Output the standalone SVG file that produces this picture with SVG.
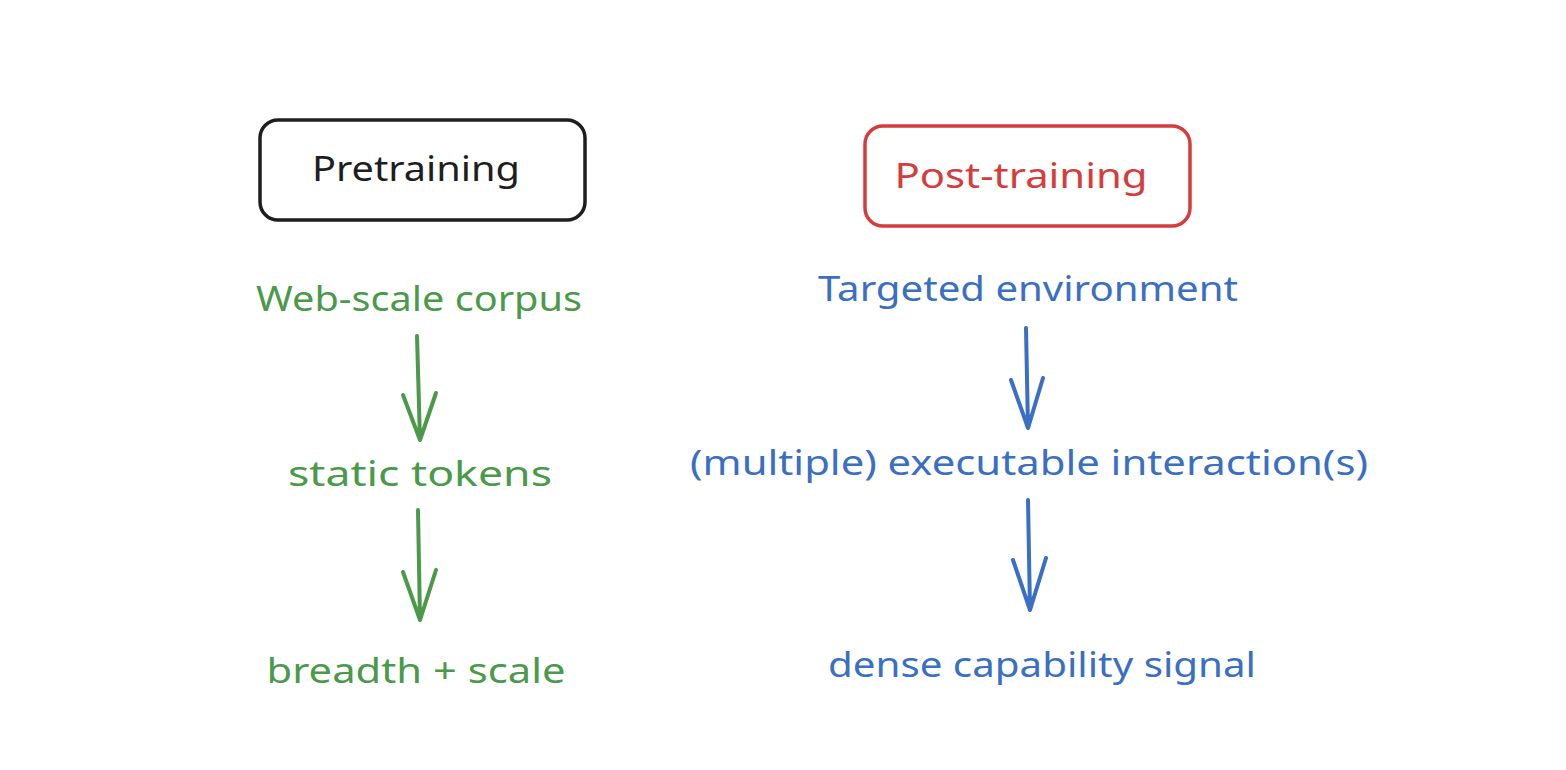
<svg xmlns="http://www.w3.org/2000/svg" width="1566" height="770" viewBox="0 0 1566 770">
<style>
text{font-family:"Noto Sans","DejaVu Sans",sans-serif;font-size:34px;text-anchor:middle;dominant-baseline:central}
.g{fill:#4a9a4a}.b{fill:#3a6fc4}
.ag{stroke:#4a9a4a;stroke-width:4;fill:none;stroke-linecap:round;stroke-linejoin:round}
.ab{stroke:#3a6fc4;stroke-width:4;fill:none;stroke-linecap:round;stroke-linejoin:round}
</style>
<rect width="1566" height="770" fill="#fff"/>
<g id="pretraining"><rect x="260" y="120" width="325" height="100" rx="18" fill="none" stroke="#1e1e1e" stroke-width="3.5"/><text x="416" y="168" fill="#1e1e1e" textLength="208" lengthAdjust="spacingAndGlyphs">Pretraining</text></g>
<g id="posttraining"><rect x="865" y="126" width="325" height="100" rx="18" fill="none" stroke="#d63c3c" stroke-width="3.5"/><text x="1021" y="175" fill="#d63c3c" textLength="253" lengthAdjust="spacingAndGlyphs">Post-training</text></g>
<g id="web"><text class="g" x="419" y="298" textLength="326" lengthAdjust="spacingAndGlyphs">Web-scale corpus</text></g>
<g id="static"><text class="g" x="420" y="473" textLength="264" lengthAdjust="spacingAndGlyphs">static tokens</text></g>
<g id="breadth"><text class="g" x="416" y="670" textLength="299" lengthAdjust="spacingAndGlyphs">breadth + scale</text></g>
<g id="targeted"><text class="b" x="1028" y="288" textLength="420" lengthAdjust="spacingAndGlyphs">Targeted environment</text></g>
<g id="multiple"><text class="b" x="1029" y="462" textLength="678" lengthAdjust="spacingAndGlyphs">(multiple) executable interaction(s)</text></g>
<g id="dense"><text class="b" x="1042" y="664" textLength="428" lengthAdjust="spacingAndGlyphs">dense capability signal</text></g>
<g id="connectors">
<path class="ag" d="M417 336 L420 440 M403 395 L420 440 L436 393"/>
<path class="ag" d="M418 510 L420 620 M403 572 L420 620 L436 570"/>
<path class="ab" d="M1026 328 L1028 428 M1011 380 L1028 428 L1043 378"/>
<path class="ab" d="M1028 500 L1030 610 M1013 560 L1030 610 L1046 558"/>
</g>
</svg>
